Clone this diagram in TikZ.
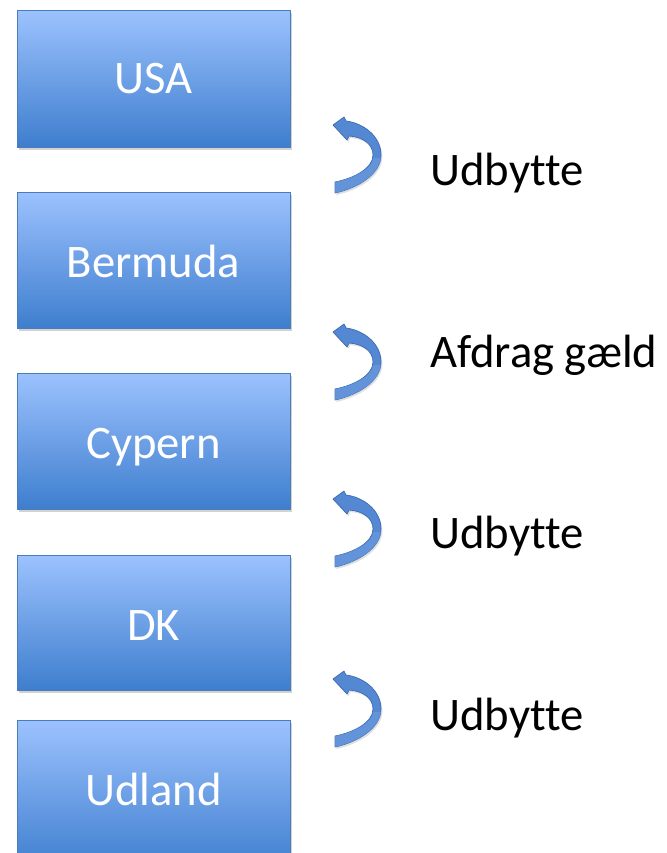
\documentclass[tikz,border=0pt]{standalone}
\usepackage{fontspec}
\setmainfont{Carlito}[Ligatures=NoCommon]
\usetikzlibrary{shadows}
\definecolor{boxtop}{RGB}{156,194,254}
\definecolor{boxbot}{RGB}{62,126,206}
\definecolor{boxedge}{RGB}{74,124,186}
\definecolor{arrowfill}{RGB}{84,136,210}
\definecolor{arrowedge}{RGB}{58,106,178}
\definecolor{arrowlight}{RGB}{110,156,222}
\tikzset{
  country/.style={draw=boxedge, line width=0.6pt, top color=boxtop, bottom color=boxbot,
    drop shadow={shadow xshift=1.5pt, shadow yshift=-2pt, opacity=0.35}},
  boxlabel/.style={text=white, font=\fontsize{35}{42}\selectfont, anchor=base, inner sep=0pt},
  flowlabel/.style={text=black, font=\fontsize{35}{42}\selectfont, anchor=base west, inner sep=0pt},
  curlarrow/.style={fill=arrowfill, draw=arrowedge, line width=0.5pt, line join=round,
    drop shadow={shadow xshift=1pt, shadow yshift=-1.5pt, opacity=0.25}}
}
\newcommand{\curl}[2]{%
  \begin{scope}[shift={(#1,#2)}]
    \path[curlarrow] (0,7) -- (11,-1) -- (13,3)
      .. controls (30,5) and (48,18) .. (48,37)
      .. controls (48,56) and (25,70) .. (2,75)
      -- (2,64)
      .. controls (22,60) and (40,50) .. (40,37)
      .. controls (40,27) and (31,19) .. (16,18)
      -- (14,22) -- cycle;
    \path[fill=arrowlight, opacity=0.6] (48,40)
      .. controls (46,57) and (25,70) .. (2,75)
      -- (2,64)
      .. controls (22,60) and (40,50) .. (40,40) -- cycle;
  \end{scope}}
\begin{document}
\begin{tikzpicture}[x=0.75pt, y=-0.75pt]
\useasboundingbox (0,0) rectangle (667,853);
\clip (0,0) rectangle (667,853);
\fill[white] (0,0) rectangle (667,853);
% boxes
\path[country] (17,10) rectangle (290,147);
\path[country] (17,192) rectangle (290,328);
\path[country] (17,373) rectangle (290,509);
\path[country] (17,555) rectangle (290,690);
\path[country] (17,720) rectangle (290,870);
\node[boxlabel] (usa) at (153.5,93) {USA};
\node[boxlabel] (bermuda) at (153.5,277) {Bermuda};
\node[boxlabel] (cypern) at (153.5,458) {Cypern};
\node[boxlabel] (dk) at (153.5,640) {DK};
\node[boxlabel] (udland) at (153.5,805) {Udland};
% curved arrows
\curl{333}{118}
\curl{333}{325}
\curl{333}{492}
\curl{333}{672}
% labels
\node[flowlabel] (l1) at (430,185) {Udbytte};
\node[flowlabel] (l2) at (430,367) {Afdrag gæld};
\node[flowlabel] (l3) at (430,548) {Udbytte};
\node[flowlabel] (l4) at (430,730) {Udbytte};
\end{tikzpicture}
\end{document}
